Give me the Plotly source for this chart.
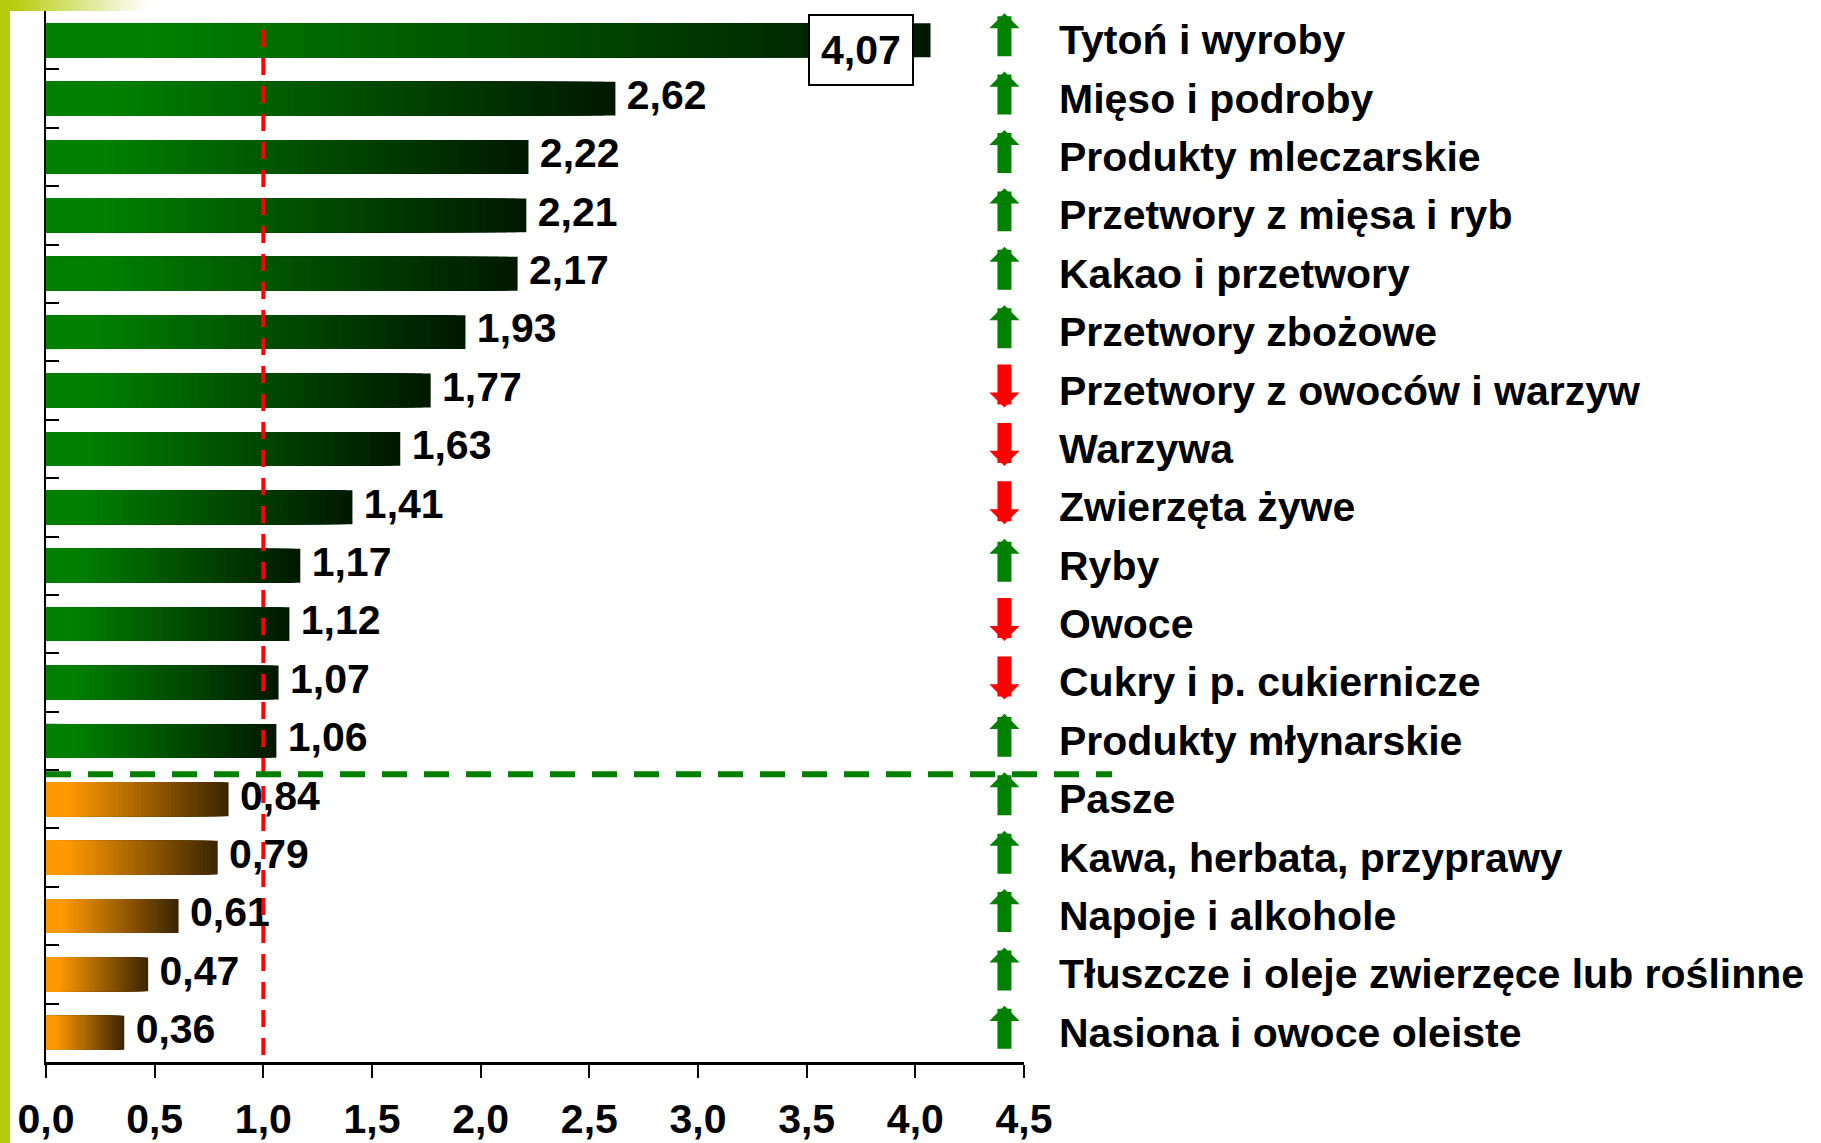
import plotly.graph_objects as go

categories = [
    "Tytoń i wyroby", "Mięso i podroby", "Produkty mleczarskie", "Przetwory z mięsa i ryb",
    "Kakao i przetwory", "Przetwory zbożowe", "Przetwory z owoców i warzyw", "Warzywa",
    "Zwierzęta żywe", "Ryby", "Owoce", "Cukry i p. cukiernicze", "Produkty młynarskie",
    "Pasze", "Kawa, herbata, przyprawy", "Napoje i alkohole",
    "Tłuszcze i oleje zwierzęce lub roślinne", "Nasiona i owoce oleiste",
]
values = [4.07, 2.62, 2.22, 2.21, 2.17, 1.93, 1.77, 1.63, 1.41, 1.17, 1.12, 1.07, 1.06,
          0.84, 0.79, 0.61, 0.47, 0.36]
trend = ["up", "up", "up", "up", "up", "up", "down", "down", "down", "up", "down", "down", "up",
         "up", "up", "up", "up", "up"]
x_ticks = [0.0, 0.5, 1.0, 1.5, 2.0, 2.5, 3.0, 3.5, 4.0, 4.5]
threshold = 1.0

FONT = "Liberation Sans, Arial, sans-serif"
GREEN = ((0, 128, 0), (0, 24, 0))
ORANGE = ((255, 153, 0), (58, 36, 0))

# plot area in pixels
L, T, PW, PH = 46, 11, 978, 1051


def px_x(p):
    return (p - L) / PW


def px_y(p):
    return (T + PH - p) / PH


def shade(t, pair):
    s = max(0.0, (t - 0.12) / 0.88)
    a, b = pair
    return "rgb(%d,%d,%d)" % tuple(round(a[i] + (b[i] - a[i]) * s) for i in range(3))


def fmt(v):
    return f"{v:.2f}".replace(".", ",")


fig = go.Figure()

# gradient bars: overlaid bars, each shorter one lighter
N = 48
for k in range(N, 0, -1):
    frac = k / N
    t = (k - 0.5) / N
    fig.add_trace(go.Bar(
        y=categories, x=[v * frac for v in values], orientation="h",
        width=0.58,
        marker=dict(color=[shade(t, GREEN if v >= threshold else ORANGE) for v in values],
                    line_width=0),
        hoverinfo="skip", showlegend=False,
    ))

imax = values.index(max(values))
fig.add_trace(go.Scatter(
    x=values, y=categories, mode="text",
    text=["" if i == imax else "\u00a0" + fmt(v) for i, v in enumerate(values)],
    textposition="middle right",
    textfont=dict(size=41, color="black", family=FONT, weight="bold"),
    cliponaxis=False, hoverinfo="skip", showlegend=False,
))

# boxed label of the biggest value
fig.add_annotation(x=3.75, y=categories[imax], text=fmt(values[imax]), showarrow=False,
                   yshift=-10, bgcolor="white", bordercolor="black", borderwidth=2,
                   borderpad=11, font=dict(size=41, color="black", family=FONT, weight="bold"))

# trend arrows + category labels
for cat, tr in zip(categories, trend):
    up = tr == "up"
    fig.add_annotation(x=4.41, y=cat, text=" ", font=dict(size=1), showarrow=True,
                       arrowhead=1, arrowsize=0.36, arrowwidth=14,
                       arrowcolor="#008000" if up else "#FF0000",
                       ax=0, ay=45 if up else -45, yshift=27 if up else -17, standoff=0)
    fig.add_annotation(xref="paper", x=px_x(1057), y=cat, text=cat, showarrow=False,
                       xanchor="left", font=dict(size=41, color="black", family=FONT, weight="bold"))

# reference lines
fig.add_shape(type="line", xref="x", yref="paper", x0=threshold, x1=threshold,
              y0=px_y(1055), y1=px_y(21), line=dict(color="red", width=4, dash="17px,11px"))
n_above = sum(v >= threshold for v in values)
fig.add_shape(type="line", xref="paper", yref="y", x0=0, x1=px_x(1112),
              y0=n_above - 0.43, y1=n_above - 0.43,
              line=dict(color="#008000", width=6, dash="25px,17px"))

# decorative frame: left strip and fading top strip
BAR_C = (181, 204, 12)
fig.add_shape(type="rect", xref="paper", yref="paper", x0=px_x(0), x1=px_x(10),
              y0=px_y(1143), y1=px_y(0), fillcolor="rgb(181,204,12)", line_width=0, layer="below")
M = 40
for j in range(M):
    a = j / (M - 1)
    col = "rgb(%d,%d,%d)" % tuple(round(c + (255 - c) * a) for c in BAR_C)
    x0 = 10 + j * 140 / M if j else 0
    fig.add_shape(type="rect", xref="paper", yref="paper", x0=px_x(x0), x1=px_x(10 + (j + 1) * 140 / M + 0.5),
                  y0=px_y(11), y1=px_y(0), fillcolor=col, line_width=0, layer="below")

fig.update_layout(
    width=1821, height=1143,
    margin=dict(l=L, r=1821 - L - PW, t=T, b=1143 - T - PH),
    barmode="overlay", plot_bgcolor="white", paper_bgcolor="white",
    separators=", ", showlegend=False,
    font=dict(family=FONT, color="black"),
)
fig.update_xaxes(range=[0, 4.5], tickvals=x_ticks, tickformat=".1f", ticks="outside",
                 ticklen=13, tickwidth=2, tickcolor="black", showline=True, linewidth=3,
                 linecolor="black", showgrid=False, zeroline=False, ticklabelstandoff=6,
                 automargin=False,
                 tickfont=dict(size=41, color="black", family=FONT, weight="bold"))
fig.update_yaxes(range=[len(categories) - 0.5, -0.5], ticks="inside", tickson="boundaries",
                 ticklen=13, tickwidth=2, tickcolor="black", showline=True, linewidth=2,
                 linecolor="black", showticklabels=False, showgrid=False, zeroline=False,
                 automargin=False)

fig.write_html("out.html", config={"displayModeBar": False},
               post_script="document.body.style.margin='0px';")
